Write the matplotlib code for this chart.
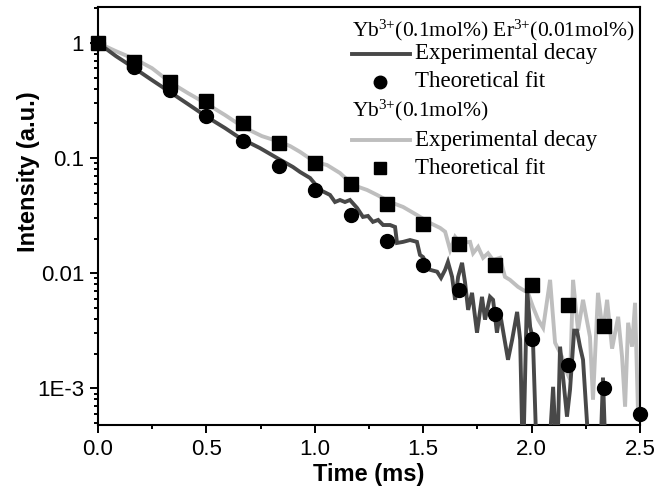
import matplotlib
matplotlib.use("Agg")
import matplotlib.pyplot as plt
from matplotlib.ticker import LogLocator, NullFormatter, MultipleLocator, FormatStrFormatter
import numpy as np

# Yb3+(0.1mol%) Er3+(0.01mol%) : experimental decay (values read off the picture,
# points under the axis floor are the dips that run off the bottom)
t_yber = [0.0, 0.083, 0.161, 0.249, 0.332, 0.415, 0.503, 0.586, 0.655, 0.747,
          0.826, 0.899, 0.932, 0.978, 1.024, 1.070, 1.093, 1.116, 1.139, 1.162,
          1.195, 1.222, 1.245, 1.268, 1.292, 1.315, 1.347, 1.370, 1.379, 1.407,
          1.439, 1.471, 1.485, 1.499, 1.531, 1.564, 1.582, 1.601, 1.614, 1.633,
          1.647, 1.661, 1.679, 1.693, 1.707, 1.725, 1.748, 1.771, 1.785, 1.808,
          1.822, 1.840, 1.854, 1.891, 1.910, 1.933, 1.947, 1.960, 1.979, 1.993,
          2.006, 2.025, 2.048, 2.076, 2.099, 2.117, 2.131, 2.163, 2.177, 2.196,
          2.209, 2.223, 2.237, 2.269, 2.315, 2.329, 2.343, 2.5]
i_yber = [1.0, 0.767, 0.615, 0.475, 0.374, 0.294, 0.227, 0.182, 0.149, 0.122,
          0.100, 0.0836, 0.0756, 0.0671, 0.0528, 0.0478, 0.0415, 0.0432, 0.0415, 0.0432,
          0.0368, 0.0308, 0.0314, 0.0279, 0.0290, 0.0262, 0.0262, 0.0252, 0.0183, 0.0187,
          0.0194, 0.0187, 0.0144, 0.0138, 0.0107, 0.0103, 0.0091, 0.0107, 0.0125, 0.0093,
          0.00587, 0.0093, 0.0123, 0.00825, 0.0048, 0.00675, 0.00304, 0.00623, 0.00395, 0.00623,
          0.00587, 0.00304, 0.00452, 0.00177, 0.00264, 0.00461, 0.00264, 0.0002, 0.00716, 0.00342,
          0.00264, 0.0002, 0.0002, 0.0002, 0.00103, 0.0002, 0.0023, 0.000567, 0.000973, 0.00317,
          0.00317, 0.0023, 0.00177, 0.0002, 0.0002, 0.00124, 0.0002, 0.0002]

# Yb3+(0.1mol%) : experimental decay
t_yb = [0.0, 0.083, 0.180, 0.249, 0.332, 0.415, 0.503, 0.586, 0.669, 0.756,
        0.839, 0.886, 0.932, 1.001, 1.056, 1.116, 1.176, 1.241, 1.287, 1.347,
        1.407, 1.471, 1.531, 1.578, 1.601, 1.624, 1.647, 1.670, 1.716, 1.730,
        1.753, 1.776, 1.799, 1.822, 1.854, 1.877, 1.900, 1.937, 1.960, 1.983,
        2.006, 2.030, 2.053, 2.085, 2.108, 2.140, 2.163, 2.177, 2.191, 2.214,
        2.237, 2.269, 2.283, 2.306, 2.329, 2.348, 2.371, 2.399, 2.417, 2.431,
        2.445, 2.463, 2.477, 2.491]
i_yb = [1.0, 0.847, 0.708, 0.603, 0.456, 0.366, 0.294, 0.236, 0.186, 0.155,
        0.138, 0.127, 0.113, 0.0923, 0.0870, 0.0741, 0.0583, 0.0528, 0.0478, 0.0415,
        0.0376, 0.0320, 0.0273, 0.0247, 0.0229, 0.0159, 0.0207, 0.0183, 0.0187, 0.0149,
        0.0169, 0.0136, 0.0149, 0.0130, 0.0136, 0.00929, 0.00875, 0.00761, 0.00716, 0.00675,
        0.0051, 0.00395, 0.00335, 0.00875, 0.00249, 0.00188, 0.00137, 0.00119, 0.00875, 0.00317,
        0.00587, 0.0028, 0.000796, 0.00675, 0.00304, 0.00587, 0.00221, 0.00418, 0.00188, 0.000692,
        0.00371, 0.0023, 0.00553, 0.000574]

# theoretical fits
t_fit = [0.0, 0.167, 0.333, 0.5, 0.667, 0.833, 1.0, 1.167, 1.333, 1.5,
         1.667, 1.833, 2.0, 2.167, 2.333, 2.5]
fit_yber = [1.0, 0.62, 0.39, 0.23, 0.14, 0.085, 0.053, 0.032, 0.019, 0.0118,
            0.0071, 0.0044, 0.0027, 0.0016, 0.0010, 0.0006]
fit_yb = [1.0, 0.68, 0.46, 0.31, 0.20, 0.135, 0.091, 0.060, 0.040, 0.027,
          0.018, 0.0118, 0.0079, 0.0053, 0.0035]

y_ticks = [1, 0.1, 0.01, 1e-3]
y_ticklabels = ['1', '0.1', '0.01', '1E-3']

dark = '#484848'
light = '#bebebe'

plt.rcParams['font.family'] = ['Liberation Sans', 'DejaVu Sans']
plt.rcParams['mathtext.fontset'] = 'custom'
plt.rcParams['mathtext.rm'] = 'Liberation Serif'
plt.rcParams['mathtext.default'] = 'regular'

fig = plt.figure(figsize=(6.7, 4.93), dpi=100)
ax = fig.add_axes([0.1463, 0.1379, 0.8090, 0.8479])

ax.plot(t_yb, i_yb, color=light, lw=2.8, solid_joinstyle='miter', zorder=2)
ax.plot(t_yber, i_yber, color=dark, lw=2.8, solid_joinstyle='miter', zorder=3)
ax.plot(t_fit[:len(fit_yb)], fit_yb, 's', color='black', ms=9.5, clip_on=False, zorder=4)
ax.plot(t_fit, fit_yber, 'o', color='black', ms=10, clip_on=False, zorder=4)

ax.set_yscale('log')
ax.set_xlim(0, 2.5)
ax.set_ylim(4.8e-4, 2.05)

ax.xaxis.set_major_locator(MultipleLocator(0.5))
ax.xaxis.set_minor_locator(MultipleLocator(0.25))
ax.xaxis.set_major_formatter(FormatStrFormatter('%.1f'))
ax.set_yticks(y_ticks)
ax.set_yticklabels(y_ticklabels)
ax.yaxis.set_minor_locator(LogLocator(base=10, subs=np.arange(2, 10)))
ax.yaxis.set_minor_formatter(NullFormatter())

ax.tick_params(which='both', direction='out', top=False, right=False, width=1.4)
ax.tick_params(which='major', length=6, labelsize=16, pad=4)
ax.tick_params(which='minor', length=3)
for sp in ax.spines.values():
    sp.set_linewidth(1.5)

ax.set_xlabel('Time (ms)', fontsize=17, fontweight='bold', labelpad=2)
ax.set_ylabel('Intensity (a.u.)', fontsize=17, fontweight='bold')
ax.yaxis.set_label_coords(-0.107, 0.605)

# key, drawn by hand in axes fractions
serif = ['Liberation Serif', 'DejaVu Serif']
key_fs = 16.5
title_fs = 15.5
tr = ax.transAxes
x_title, x_text = 0.4686, 0.585

ax.text(x_title, 0.945, 'Yb$^{3{+}}$(0.1mol%) Er$^{3{+}}$(0.01mol%)',
        transform=tr, family=serif, fontsize=title_fs, va='center', ha='left')
ax.plot([0.4686, 0.5756], [0.8876, 0.8876], transform=tr, color=dark, lw=2.8, clip_on=False)
ax.text(x_text, 0.8876, 'Experimental decay', transform=tr, family=serif,
        fontsize=key_fs, va='center', ha='left')
ax.plot([0.5203], [0.8206], 'o', transform=tr, color='black', ms=9, clip_on=False)
ax.text(x_text, 0.8206, 'Theoretical fit', transform=tr, family=serif,
        fontsize=key_fs, va='center', ha='left')

ax.text(x_title, 0.7536, 'Yb$^{3{+}}$(0.1mol%)', transform=tr, family=serif,
        fontsize=title_fs, va='center', ha='left')
ax.plot([0.4686, 0.5756], [0.6818, 0.6818], transform=tr, color=light, lw=2.8, clip_on=False)
ax.text(x_text, 0.6818, 'Experimental decay', transform=tr, family=serif,
        fontsize=key_fs, va='center', ha='left')
ax.plot([0.5203], [0.6148], 's', transform=tr, color='black', ms=8.5, clip_on=False)
ax.text(x_text, 0.6148, 'Theoretical fit', transform=tr, family=serif,
        fontsize=key_fs, va='center', ha='left')

fig.savefig('out.png', dpi=100)
